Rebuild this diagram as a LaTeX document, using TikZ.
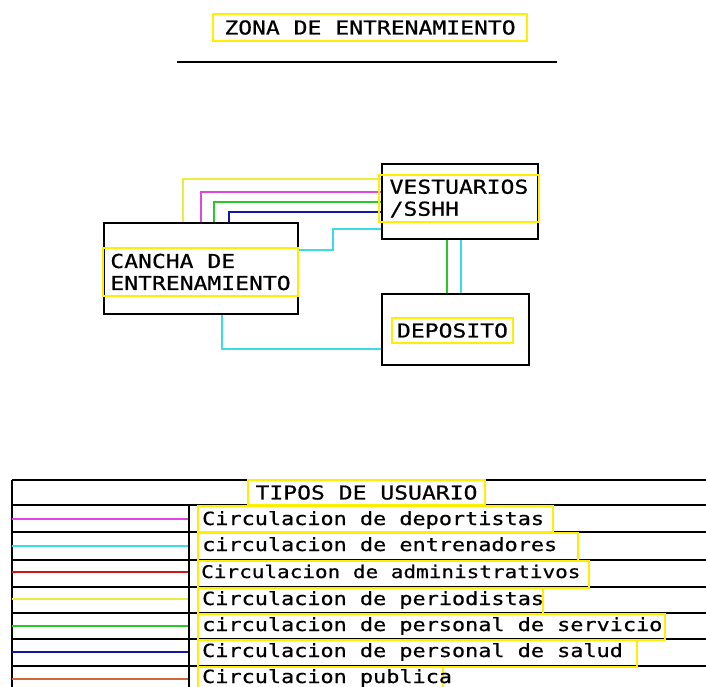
\documentclass[tikz,border=0pt]{standalone}
\usepackage{fontspec}
\newfontfamily\cadfont[FakeStretch=1.2,FakeBold=0.6]{DejaVu Sans Mono}
\definecolor{ylw}{RGB}{255,238,0}
\definecolor{cmag}{RGB}{225,70,225}
\definecolor{ccyan}{RGB}{60,220,230}
\definecolor{cred}{RGB}{210,20,20}
\definecolor{cylw}{RGB}{235,235,70}
\definecolor{cgrn}{RGB}{40,200,40}
\definecolor{cblu}{RGB}{20,20,170}
\definecolor{corg}{RGB}{205,105,55}
\begin{document}
\begin{tikzpicture}[x=1pt,y=-1pt,
  blackbox/.style={draw=black,line width=2.4pt,inner sep=0pt},
  lbl/.style={draw=ylw,line width=2pt,inner sep=0pt,align=left,
    font=\cadfont\fontsize{19.2}{22}\selectfont},
  rowbox/.style={draw=ylw,line width=2pt,inner sep=0pt,anchor=north west,minimum height=26},
  rowtxt/.style={anchor=base west,inner sep=0pt,font=\cadfont\fontsize{18.2}{22}\selectfont},
  tline/.style={draw=black,line width=2pt},
  conn/.style={line width=1.8pt}]
\useasboundingbox[fill=white] (0,0) rectangle (706,686);

% title
\node[lbl,minimum width=314,minimum height=27] (title) at (370,27.5) {ZONA DE ENTRENAMIENTO};
\coordinate (ulA) at (177,62);
\coordinate (ulB) at (557,62);
\draw[tline,line width=2.4pt] (ulA) -- (ulB);

% boxes
\node[blackbox,minimum width=156,minimum height=75] (vest) at (460,201.5) {};
\node[blackbox,minimum width=194,minimum height=91] (cancha) at (201,268.5) {};
\node[blackbox,minimum width=147,minimum height=71] (depo) at (455.5,329.5) {};

% connectors
\draw[conn,cylw] (cancha.north -| 183,0) |- (vest.west |- 0,179);
\draw[conn,cmag] (cancha.north -| 201,0) |- (vest.west |- 0,192);
\draw[conn,cgrn] (cancha.north -| 214,0) |- (vest.west |- 0,202);
\draw[conn,cblu] (cancha.north -| 229,0) |- (vest.west |- 0,212);
\draw[conn,ccyan] (cancha.east |- 0,250) -- (333,250) |- (vest.west |- 0,229);
\draw[conn,cgrn] (vest.south -| 447,0) -- (depo.north -| 447,0);
\draw[conn,ccyan] (vest.south -| 461,0) -- (depo.north -| 461,0);
\draw[conn,ccyan] (cancha.south -| 222,0) |- (depo.west |- 0,349);

% labels
\node[lbl,minimum width=160,minimum height=47] (vestl) at (459,198.5) {VESTUARIOS\\/SSHH};
\node[lbl,minimum width=195,minimum height=48] (canchal) at (200.5,272) {CANCHA DE\\ENTRENAMIENTO};
\node[lbl,minimum width=121,minimum height=25] (depol) at (452.5,330.5) {DEPOSITO};

% legend table
\draw[tline] (12,480) -- (706,480);
\foreach \yy in {505,532,560,587,613,639,666} {\draw[tline] (12,\yy) -- (706,\yy);}
\draw[tline] (12,480) -- (12,690);
\draw[tline] (189,505) -- (189,690);

\draw[conn,cmag] (12,519) -- (188,519);
\draw[conn,ccyan] (12,546) -- (188,546);
\draw[conn,cred] (12,572) -- (188,572);
\draw[conn,cylw] (12,599) -- (188,599);
\draw[conn,cgrn] (12,626) -- (188,626);
\draw[conn,cblu] (12,652) -- (188,652);
\draw[conn,corg] (12,679) -- (188,679);

\node[lbl,minimum width=237,minimum height=25] (hdr) at (366.5,492.5) {TIPOS DE USUARIO};

\node[rowbox,minimum width=355] (r1) at (197,505) {};
\node[rowtxt] at ([xshift=5]r1.north west |- 0,525) {Circulacion de deportistas};
\node[rowbox,minimum width=380,minimum height=28] (r2) at (197,532) {};
\node[rowtxt] at ([xshift=5]r2.north west |- 0,551) {circulacion de entrenadores};
\node[rowbox,minimum width=391,minimum height=27] (r3) at (197,560) {};
\node[rowtxt,font=\cadfont\fontsize{17.5}{22}\selectfont] at ([xshift=4]r3.north west |- 0,578) {Circulacion de administrativos};
\node[rowbox,minimum width=345] (r4) at (197,587) {};
\node[rowtxt] at ([xshift=5]r4.north west |- 0,605) {Circulacion de periodistas};
\node[rowbox,minimum width=467] (r5) at (197,613) {};
\node[rowtxt] at ([xshift=5]r5.north west |- 0,631) {circulacion de personal de servicio};
\node[rowbox,minimum width=439,minimum height=27] (r6) at (197,639) {};
\node[rowtxt] at ([xshift=5]r6.north west |- 0,657) {Circulacion de personal de salud};
\node[rowbox,minimum width=245] (r7) at (197,666) {};
\node[rowtxt] at ([xshift=5]r7.north west |- 0,683) {Circulacion publica};
\end{tikzpicture}
\end{document}
